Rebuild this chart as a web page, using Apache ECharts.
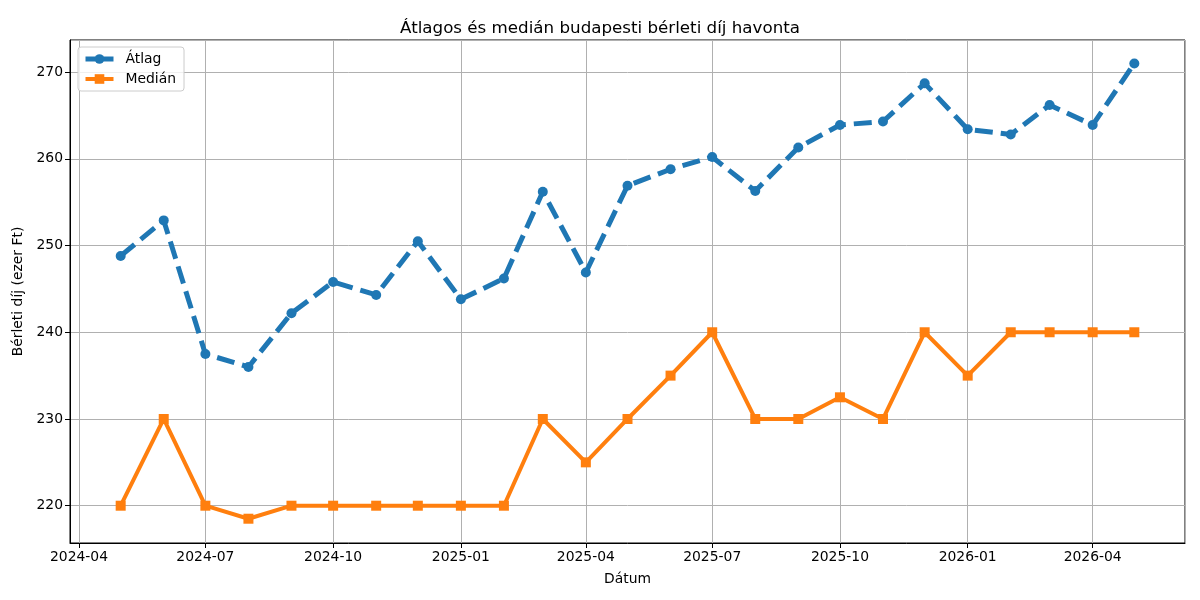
<!DOCTYPE html>
<html>
<head>
<meta charset="utf-8">
<script src="https://cdn.jsdelivr.net/npm/echarts@6/dist/echarts.min.js"></script>
<style>
  html, body { margin: 0; padding: 0; background: #fff; }
  #chart { width: 1200px; height: 600px; }
</style>
</head>
<body>
<div id="chart"></div>
<script>
const months = [
  '2024-05-01', '2024-06-01', '2024-07-01', '2024-08-01', '2024-09-01',
  '2024-10-01', '2024-11-01', '2024-12-01', '2025-01-01', '2025-02-01',
  '2025-03-01', '2025-04-01', '2025-05-01', '2025-06-01', '2025-07-01',
  '2025-08-01', '2025-09-01', '2025-10-01', '2025-11-01', '2025-12-01',
  '2026-01-01', '2026-02-01', '2026-03-01', '2026-04-01', '2026-05-01'
]
const atlag = [
  248.8, 252.9, 237.5, 236.0, 242.2, 245.8, 244.3, 250.5, 243.8, 246.2,
  256.2, 246.9, 256.9, 258.8, 260.2, 256.3, 261.3, 263.9, 264.3, 268.7,
  263.4, 262.8, 266.2, 263.9, 271.0
]
const median = [
  220, 230, 220, 218.5, 220, 220, 220, 220, 220, 220,
  230, 225, 230, 235, 240, 230, 230, 232.5, 230, 240,
  235, 240, 240, 240, 240
]

const font = 'DejaVu Sans'
const chart = echarts.init(document.getElementById('chart'))

chart.setOption({
  animation: false,
  textStyle: { fontFamily: font },
  title: {
    text: 'Átlagos és medián budapesti bérleti díj havonta',
    left: 'center',
    top: 15,
    textStyle: { fontFamily: font, fontSize: 16.7, fontWeight: 'normal', color: '#000' },
  },
  legend: {
    left: 78,
    top: 47,
    orient: 'vertical',
    itemGap: 6,
    itemWidth: 28,
    itemHeight: 12,
    padding: [5, 8, 5, 5],
    backgroundColor: 'rgba(255,255,255,0.8)',
    borderColor: '#ccc',
    borderWidth: 1,
    borderRadius: 3,
    textStyle: { fontFamily: font, fontSize: 13.9, color: '#000', padding: [0, 0, 0, 7] },
    data: [
      { name: 'Átlag', lineStyle: { type: 'solid', width: 5 } },
      { name: 'Medián', lineStyle: { width: 4 } },
    ],
  },
  grid: {
    left: 70,
    right: 15,
    top: 40,
    bottom: 57,
    show: true,
    borderColor: '#000',
    borderWidth: 1,
    backgroundColor: '#fff',
  },
  xAxis: {
    type: 'time',
    min: '2024-03-25 12:00',
    max: '2026-06-06 12:00',
    splitNumber: 7,
    name: 'Dátum',
    nameLocation: 'middle',
    nameGap: 29,
    nameTextStyle: { fontFamily: font, fontSize: 13.9, color: '#000' },
    axisLine: { lineStyle: { color: '#000' } },
    axisTick: { length: 5, lineStyle: { color: '#000' } },
    axisLabel: {
      fontFamily: font,
      fontSize: 13.9,
      color: '#000',
      margin: 7,
      showMinLabel: false,
      showMaxLabel: false,
      formatter: (v) => echarts.time.format(v, '{yyyy}-{MM}', false),
    },
    splitLine: { show: true, lineStyle: { color: '#b0b0b0', width: 1 } },
  },
  yAxis: {
    type: 'value',
    min: 215.7,
    max: 273.7,
    name: 'Bérleti díj (ezer Ft)',
    nameLocation: 'middle',
    nameGap: 38,
    nameTextStyle: { fontFamily: font, fontSize: 13.9, color: '#000' },
    axisLine: { show: true, lineStyle: { color: '#000' } },
    axisTick: { show: true, length: 5, lineStyle: { color: '#000' } },
    axisLabel: {
      fontFamily: font,
      fontSize: 13.9,
      color: '#000',
      margin: 7,
      showMinLabel: false,
      showMaxLabel: false,
    },
    splitLine: { show: true, lineStyle: { color: '#b0b0b0', width: 1 } },
  },
  series: [
    {
      name: 'Átlag',
      type: 'line',
      data: months.map((m, i) => [m, atlag[i]]),
      symbol: 'circle',
      symbolSize: 10,
      color: '#1f77b4',
      lineStyle: { width: 5, type: [18, 8], color: '#1f77b4' },
      itemStyle: { color: '#1f77b4' },
      z: 3,
    },
    {
      name: 'Medián',
      type: 'line',
      data: months.map((m, i) => [m, median[i]]),
      symbol: 'rect',
      symbolSize: 10,
      color: '#ff7f0e',
      lineStyle: { width: 4, color: '#ff7f0e' },
      itemStyle: { color: '#ff7f0e' },
      z: 2,
    },
  ],
})
</script>
</body>
</html>
